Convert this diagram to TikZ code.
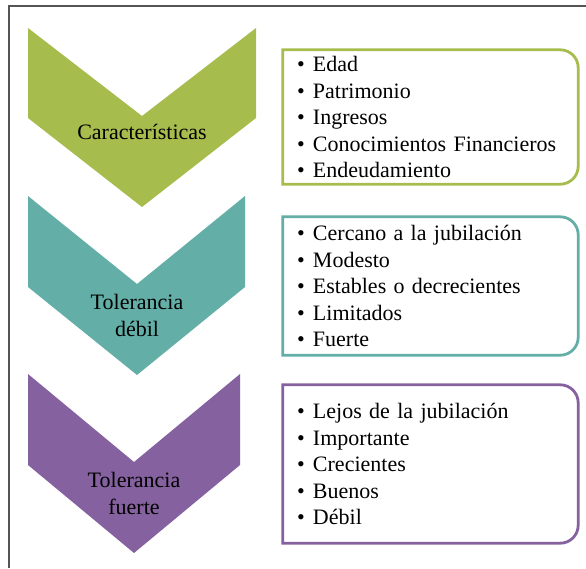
\documentclass[tikz,border=0pt]{standalone}
\usepackage{fontspec}
\setmainfont{Liberation Serif}
\usepackage{xcolor}
\usepackage{tikz}
\definecolor{verde}{HTML}{A6BC4D}
\definecolor{turquesa}{HTML}{63AEA6}
\definecolor{morado}{HTML}{8561A0}
\definecolor{marco}{HTML}{555555}
\newcommand{\itm}[1]{\makebox[16pt][l]{\textbullet}#1}

\begin{document}
\begin{tikzpicture}[x=1pt,y=1pt,
	etiqueta/.style={align=center,inner sep=0pt,font=\fontsize{22}{27}\selectfont},
	lista/.style={text width=267pt,inner xsep=14pt,inner ysep=0pt,minimum width=295pt,minimum height=#1,align=left,font=\fontsize{22}{26.5}\selectfont},
	borde/.style={draw=#1,line width=2.8pt}]
	\useasboundingbox (0,0) rectangle (586,-568);
	\draw[marco,line width=1.8pt] (9,-568) -- (9,-6) -- (586,-6);
	\fill[verde] (28,-28) -- (142,-116) -- (256,-28) -- (256,-118) -- (142,-207) -- (28,-118) -- cycle;
	\fill[turquesa] (28,-196) -- (137,-284) -- (245,-196) -- (245,-287) -- (137,-375) -- (28,-287) -- cycle;
	\fill[morado] (28,-374) -- (134,-462) -- (240,-374) -- (240,-465) -- (134,-553) -- (28,-465) -- cycle;
	\node[etiqueta] (c1) at (142,-132) {Características};
	\node[etiqueta] (c2) at (137,-315) {Tolerancia\\débil};
	\node[etiqueta] (c3) at (134,-493) {Tolerancia\\fuerte};
	\node[lista=134pt] (l1) at (430.5,-117) {\itm{Edad}\\\itm{Patrimonio}\\\itm{Ingresos}\\\itm{Conocimientos Financieros}\\\itm{Endeudamiento}};
	\node[lista=138pt] (l2) at (430.5,-286) {\itm{Cercano a la jubilación}\\\itm{Modesto}\\\itm{Estables o decrecientes}\\\itm{Limitados}\\\itm{Fuerte}};
	\node[lista=158pt] (l3) at (430.5,-464) {\itm{Lejos de la jubilación}\\\itm{Importante}\\\itm{Crecientes}\\\itm{Buenos}\\\itm{Débil}};
	\draw[borde=verde] (l1.south west) -- (l1.north west) -- ([xshift=-18pt]l1.north east) arc[start angle=90,end angle=0,radius=18pt] -- ([yshift=18pt]l1.south east) arc[start angle=0,end angle=-90,radius=18pt] -- cycle;
	\draw[borde=turquesa] (l2.south west) -- (l2.north west) -- ([xshift=-18pt]l2.north east) arc[start angle=90,end angle=0,radius=18pt] -- ([yshift=18pt]l2.south east) arc[start angle=0,end angle=-90,radius=18pt] -- cycle;
	\draw[borde=morado] (l3.south west) -- (l3.north west) -- ([xshift=-18pt]l3.north east) arc[start angle=90,end angle=0,radius=18pt] -- ([yshift=18pt]l3.south east) arc[start angle=0,end angle=-90,radius=18pt] -- cycle;
\end{tikzpicture}
\end{document}
